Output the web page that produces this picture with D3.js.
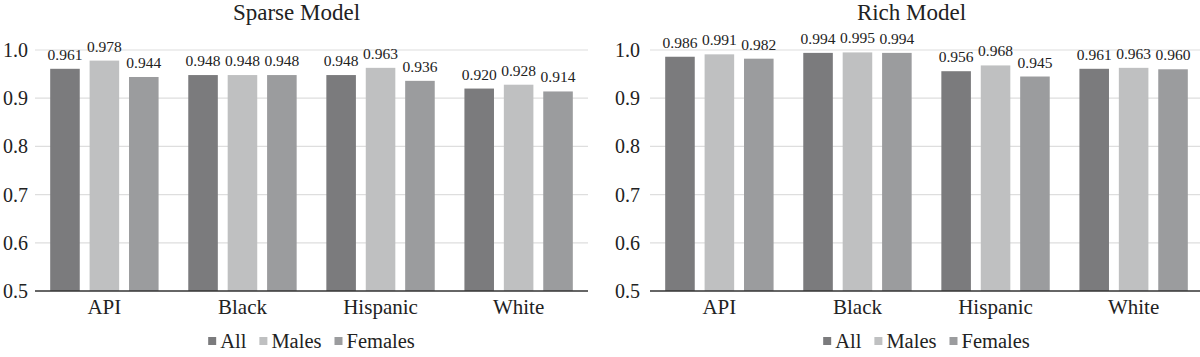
<!DOCTYPE html>
<html><head><meta charset="utf-8">
<script src="https://cdn.jsdelivr.net/npm/d3@7"></script>
<style>body{margin:0;background:#fff}svg{display:block}svg text{font-family:"Liberation Serif","Times New Roman",Times,serif}</style>
</head><body>
<svg id="c" width="1200" height="357"></svg>
<script>
const categories = ["API","Black","Hispanic","White"];
const seriesNames = ["All","Males","Females"];
const sparseAll = [0.961,0.948,0.948,0.920];
const sparseMales = [0.978,0.948,0.963,0.928];
const sparseFemales = [0.944,0.948,0.936,0.914];
const richAll = [0.986,0.994,0.956,0.961];
const richMales = [0.991,0.995,0.968,0.963];
const richFemales = [0.982,0.994,0.945,0.960];
const yTicks = [0.5,0.6,0.7,0.8,0.9,1.0];
const colors = ["#7b7b7d","#bfc0c1","#9b9c9e"];

const svg = d3.select("#c");
function panel(title, series, x0, x1, labelX) {
  const g = svg.append("g");
  const y = d3.scaleLinear().domain([0.5,1.0]).range([291,50]);
  const x = d3.scaleBand().domain(categories).range([x0,x1]).paddingInner(0.215).paddingOuter(0.11);
  const xs = d3.scaleBand().domain(seriesNames).range([0,x.bandwidth()]).paddingInner(0.25);
  g.selectAll("line.grid").data(yTicks.filter(t=>t>0.5)).enter().append("line")
    .attr("x1",x0).attr("x2",x1).attr("y1",d=>y(d)).attr("y2",d=>y(d))
    .attr("stroke","#dedede").attr("stroke-width",1.2);
  g.selectAll("text.yl").data(yTicks).enter().append("text")
    .attr("x",labelX).attr("y",d=>y(d)).attr("dy","0.35em").attr("text-anchor","end")
    .attr("font-size",20).attr("fill","#222").text(d=>d.toFixed(1));
  series.forEach((vals,si)=>{
    g.selectAll(null).data(vals).enter().append("rect")
      .attr("x",(d,i)=>x(categories[i])+xs(seriesNames[si]))
      .attr("width",xs.bandwidth()).attr("y",d=>y(d)).attr("height",d=>y(0.5)-y(d))
      .attr("fill",colors[si]);
    g.selectAll(null).data(vals).enter().append("text")
      .attr("x",(d,i)=>x(categories[i])+xs(seriesNames[si])+xs.bandwidth()/2)
      .attr("y",d=>y(d)-9).attr("text-anchor","middle")
      .attr("font-size",15.5).attr("fill","#222").text(d=>d.toFixed(3));
  });
  g.append("line").attr("x1",x0).attr("x2",x1).attr("y1",y(0.5)).attr("y2",y(0.5))
    .attr("stroke","#333").attr("stroke-width",1.5);
  g.selectAll("text.cat").data(categories).enter().append("text")
    .attr("x",d=>x(d)+x.bandwidth()/2).attr("y",314).attr("text-anchor","middle")
    .attr("font-size",21).attr("fill","#222").text(d=>d);
  g.append("text").attr("x",(x0+x1)/2-15).attr("y",20).attr("text-anchor","middle")
    .attr("font-size",23).attr("fill","#222").text(title);
  const lg = g.append("g");
  let cx = 0;
  seriesNames.forEach((n,i)=>{
    const it = lg.append("g").attr("transform",`translate(${cx},0)`);
    it.append("rect").attr("x",0).attr("y",-11).attr("width",8).attr("height",8).attr("fill",colors[i]);
    const t = it.append("text").attr("x",12).attr("y",0).attr("font-size",20.5).attr("fill","#222").text(n);
    cx += 12 + t.node().getComputedTextLength() + 13;
  });
  const lw = cx - 13;
  lg.attr("transform",`translate(${(x0+x1)/2 - lw/2},348)`);
}
panel("Sparse Model",[sparseAll,sparseMales,sparseFemales],35,588,28);
panel("Rich Model",[richAll,richMales,richFemales],650,1203,640);
</script>
</body></html>
